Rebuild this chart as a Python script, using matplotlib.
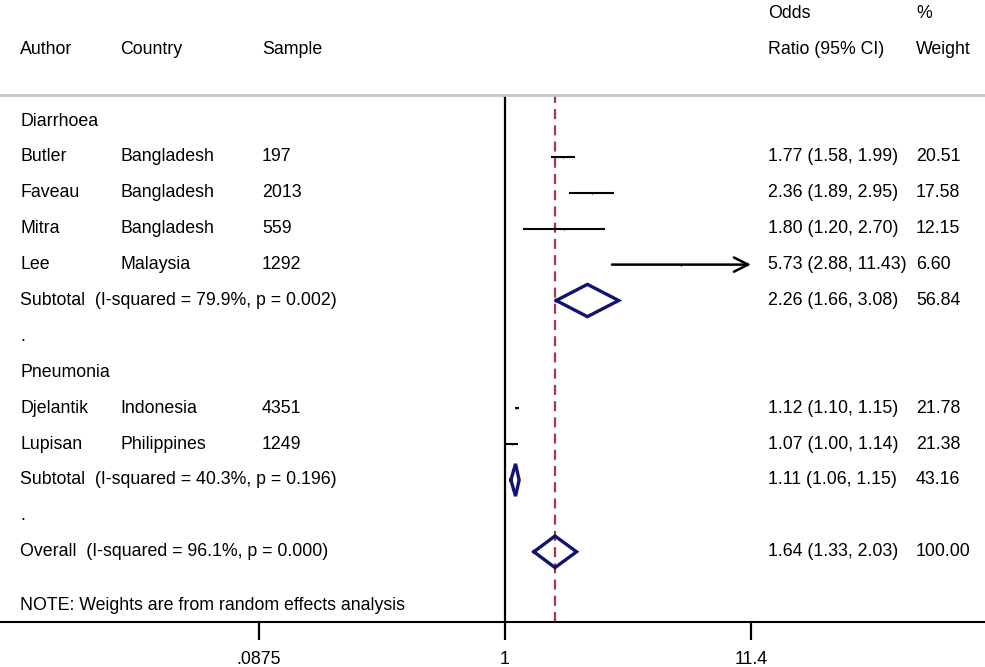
import numpy as np
import matplotlib
matplotlib.use("Agg")
import matplotlib.pyplot as plt
from matplotlib.transforms import blended_transform_factory

plt.rcParams["font.family"] = ["Liberation Sans", "DejaVu Sans"]
plt.rcParams["font.size"] = 12.8

# ---- study data ---------------------------------------------------------
authors   = ["Butler", "Faveau", "Mitra", "Lee", "Djelantik", "Lupisan"]
countries = ["Bangladesh", "Bangladesh", "Bangladesh", "Malaysia", "Indonesia", "Philippines"]
samples   = [197, 2013, 559, 1292, 4351, 1249]
odds      = [1.77, 2.36, 1.80, 5.73, 1.12, 1.07]
ci_low    = [1.58, 1.89, 1.20, 2.88, 1.10, 1.00]
ci_high   = [1.99, 2.95, 2.70, 11.43, 1.15, 1.14]
weights   = [20.51, 17.58, 12.15, 6.60, 21.78, 21.38]
groups    = ["Diarrhoea", "Diarrhoea", "Diarrhoea", "Diarrhoea", "Pneumonia", "Pneumonia"]

group_names   = ["Diarrhoea", "Pneumonia"]
sub_odds      = [2.26, 1.11]
sub_low       = [1.66, 1.06]
sub_high      = [3.08, 1.15]
sub_weight    = [56.84, 43.16]
sub_isq       = [79.9, 40.3]
sub_p         = [0.002, 0.196]

overall_or, overall_low, overall_high = 1.64, 1.33, 2.03
overall_isq, overall_p = 96.1, 0.000

tick_vals   = [0.0875, 1, 11.4]
tick_labels = [".0875", "1", "11.4"]

# ---- layout -------------------------------------------------------------
W, H = 985, 667
fig = plt.figure(figsize=(W / 100, H / 100), dpi=100)
top_px, bot_px = 95, 622
ax = fig.add_axes([0, 1 - bot_px / H, 1, (bot_px - top_px) / H])

px_per_dec = 232.7
one_px = 505
ax.set_xscale("log")
ax.set_xlim(10 ** ((0 - one_px) / px_per_dec), 10 ** ((W - one_px) / px_per_dec))
row0_px, row_h = 121, 35.9
ax.set_ylim((bot_px - row0_px) / row_h, (top_px - row0_px) / row_h)

for s in ("left", "right"):
    ax.spines[s].set_visible(False)
ax.spines["top"].set_color("#c4c4c4")
ax.spines["top"].set_linewidth(2)
ax.spines["bottom"].set_linewidth(1.5)
ax.set_yticks([])
ax.set_xticks(tick_vals)
ax.set_xticklabels(tick_labels)
ax.minorticks_off()
ax.tick_params(axis="x", length=13, width=1.6, pad=8)

tr = blended_transform_factory(ax.transAxes, ax.transData)
col_author, col_country, col_sample, col_or, col_wt = 20, 120, 262, 768, 916


def txt(xpx, row, s):
    ax.text(xpx / W, row, s, transform=tr, ha="left", va="center", clip_on=False)


def px_row(y):
    return (y - row0_px) / row_h


# header
txt(col_author, px_row(49), "Author")
txt(col_country, px_row(49), "Country")
txt(col_sample, px_row(49), "Sample")
txt(col_or, px_row(14), "Odds")
txt(col_or, px_row(49), "Ratio (95% CI)")
txt(col_wt, px_row(14), "%")
txt(col_wt, px_row(49), "Weight")

ax.axvline(1, color="black", lw=1.6)
ax.axvline(overall_or, color="#a33a48", lw=1.6, dashes=(4.5, 2.8))

navy = "#121270"


def diamond(row, est, lo, hi, h=0.45):
    ax.plot([lo, est, hi, est, lo], [row, row - h, row, row + h, row],
            color=navy, lw=2.4, solid_joinstyle="miter", zorder=3)


arrow_tip = tick_vals[-1]
row = 0
for g, gname in enumerate(group_names):
    txt(col_author, row, gname)
    row += 1
    for i in range(len(authors)):
        if groups[i] != gname:
            continue
        txt(col_author, row, authors[i])
        txt(col_country, row, countries[i])
        txt(col_sample, row, str(samples[i]))
        txt(col_or, row, f"{odds[i]:.2f} ({ci_low[i]:.2f}, {ci_high[i]:.2f})")
        txt(col_wt, row, f"{weights[i]:.2f}")
        if ci_high[i] > arrow_tip:
            ax.annotate("", xy=(arrow_tip, row), xytext=(ci_low[i], row),
                        arrowprops=dict(arrowstyle="->,head_length=0.8,head_width=0.4",
                                        lw=1.8, color="black", shrinkA=0, shrinkB=0))
        else:
            ax.plot([ci_low[i], ci_high[i]], [row, row], color="black", lw=1.5,
                    solid_capstyle="butt")
        ax.plot([odds[i]], [row], marker="|", ms=2, color="black", mew=0.8)
        row += 1
    txt(col_author, row, f"Subtotal  (I-squared = {sub_isq[g]:.1f}%, p = {sub_p[g]:.3f})")
    txt(col_or, row, f"{sub_odds[g]:.2f} ({sub_low[g]:.2f}, {sub_high[g]:.2f})")
    txt(col_wt, row, f"{sub_weight[g]:.2f}")
    diamond(row, sub_odds[g], sub_low[g], sub_high[g])
    row += 1
    txt(col_author, row, ".")
    row += 1

txt(col_author, row, f"Overall  (I-squared = {overall_isq:.1f}%, p = {overall_p:.3f})")
txt(col_or, row, f"{overall_or:.2f} ({overall_low:.2f}, {overall_high:.2f})")
txt(col_wt, row, "100.00")
diamond(row, overall_or, overall_low, overall_high, h=0.44)

txt(col_author, px_row(605), "NOTE: Weights are from random effects analysis")

fig.savefig("out.png", dpi=100)
